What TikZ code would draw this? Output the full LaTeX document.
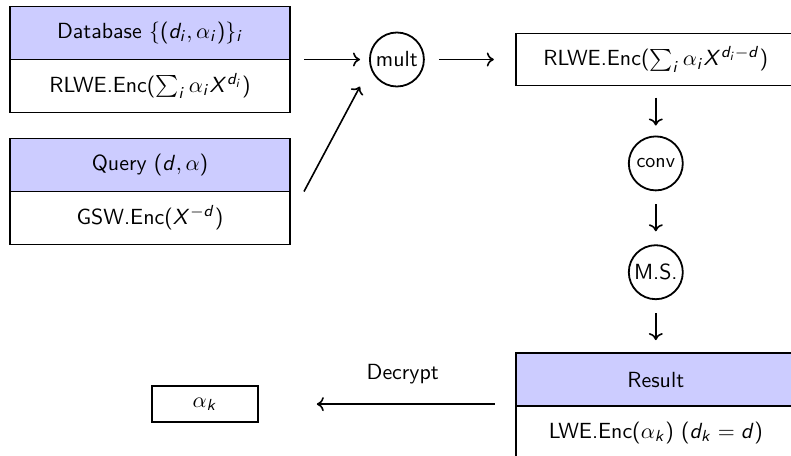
\documentclass[tikz,border=0pt,11pt]{standalone}
\usepackage{amsmath}
\usepackage{amssymb}
\usepackage{xcolor}
\usepackage{tikz}
\usetikzlibrary{shapes.geometric, arrows.meta, positioning, calc}

\renewcommand{\familydefault}{\sfdefault}
% sans serif letters and operators in math
\DeclareSymbolFont{sfletters}{OT1}{cmss}{m}{sl}
\SetSymbolFont{operators}{normal}{OT1}{cmss}{m}{n}
\DeclareMathSymbol{d}{\mathalpha}{sfletters}{`d}
\DeclareMathSymbol{i}{\mathalpha}{sfletters}{`i}
\DeclareMathSymbol{k}{\mathalpha}{sfletters}{`k}
\DeclareMathSymbol{X}{\mathalpha}{sfletters}{`X}

\begin{document}
\begin{tikzpicture}[
    node distance=26pt and 40pt,
    headbox/.style={rectangle, draw, line width=0.9pt, fill=blue!20, minimum width=140pt, minimum height=26.5pt, outer sep=0pt},
    bodybox/.style={rectangle, draw, line width=0.9pt, fill=white, minimum width=140pt, minimum height=26.5pt, outer sep=0pt},
    opnode/.style={circle, draw, line width=0.9pt, minimum size=27pt, inner sep=1pt},
    arrow/.style={-{Computer Modern Rightarrow[length=3.5pt, width=7pt]}, line width=0.8pt},
]
\useasboundingbox (-75pt,16.5pt) rectangle (320.5pt,-211pt);

% Inputs
\node [headbox] (dbhead) {Database $\{(d_i,\alpha_i)\}_i$};
\node [bodybox, below=0pt of dbhead] (dbbody) {RLWE.Enc($\sum_i \alpha_i X^{d_i}$)};
\node [headbox, below=13pt of dbbody] (qhead) {Query $(d,\alpha)$};
\node [bodybox, below=0pt of qhead] (qbody) {GSW.Enc($X^{-d}$)};

% Pipeline
\node [opnode, right=39.5pt of dbhead.south east] (mult) {mult};
\node [bodybox, minimum height=26pt, right=45.5pt of mult] (enc) {RLWE.Enc($\sum_i \alpha_i X^{d_i-d}$)};
\node [opnode, font=\small, below=25pt of enc] (conv) {conv};
\node [opnode, below=26.5pt of conv] (ms) {M.S.};
\node [headbox, below=26.5pt of ms] (reshead) {Result};
\node [bodybox, below=0pt of reshead] (resbody) {LWE.Enc($\alpha_k$) $(d_k = d)$};
\node [rectangle, draw, line width=0.9pt, minimum width=53pt, minimum height=18pt, left=128.5pt of reshead.south west, yshift=1pt] (out) {$\alpha_k$};

% Arrows
\draw [arrow, shorten <=7pt, shorten >=4.5pt] (dbhead.south east) -- (mult);
\draw [arrow, shorten <=7pt, shorten >=11pt] (mult) -- (enc);
\draw [arrow] ([xshift=7pt]qhead.south east) -- ([xshift=-4.5pt, yshift=-13.5pt]mult.west);
\draw [arrow, shorten <=6pt, shorten >=5pt] (enc) -- (conv);
\draw [arrow, shorten <=6.5pt, shorten >=6.5pt] (conv) -- (ms);
\draw [arrow, shorten <=6.5pt, shorten >=6.5pt] (ms) -- (reshead);
\draw [arrow, shorten <=10.5pt, shorten >=29pt] ([yshift=1pt]reshead.south west) -- node[above=6pt, pos=0.44] (dec) {Decrypt} (out.east);

\end{tikzpicture}
\end{document}
